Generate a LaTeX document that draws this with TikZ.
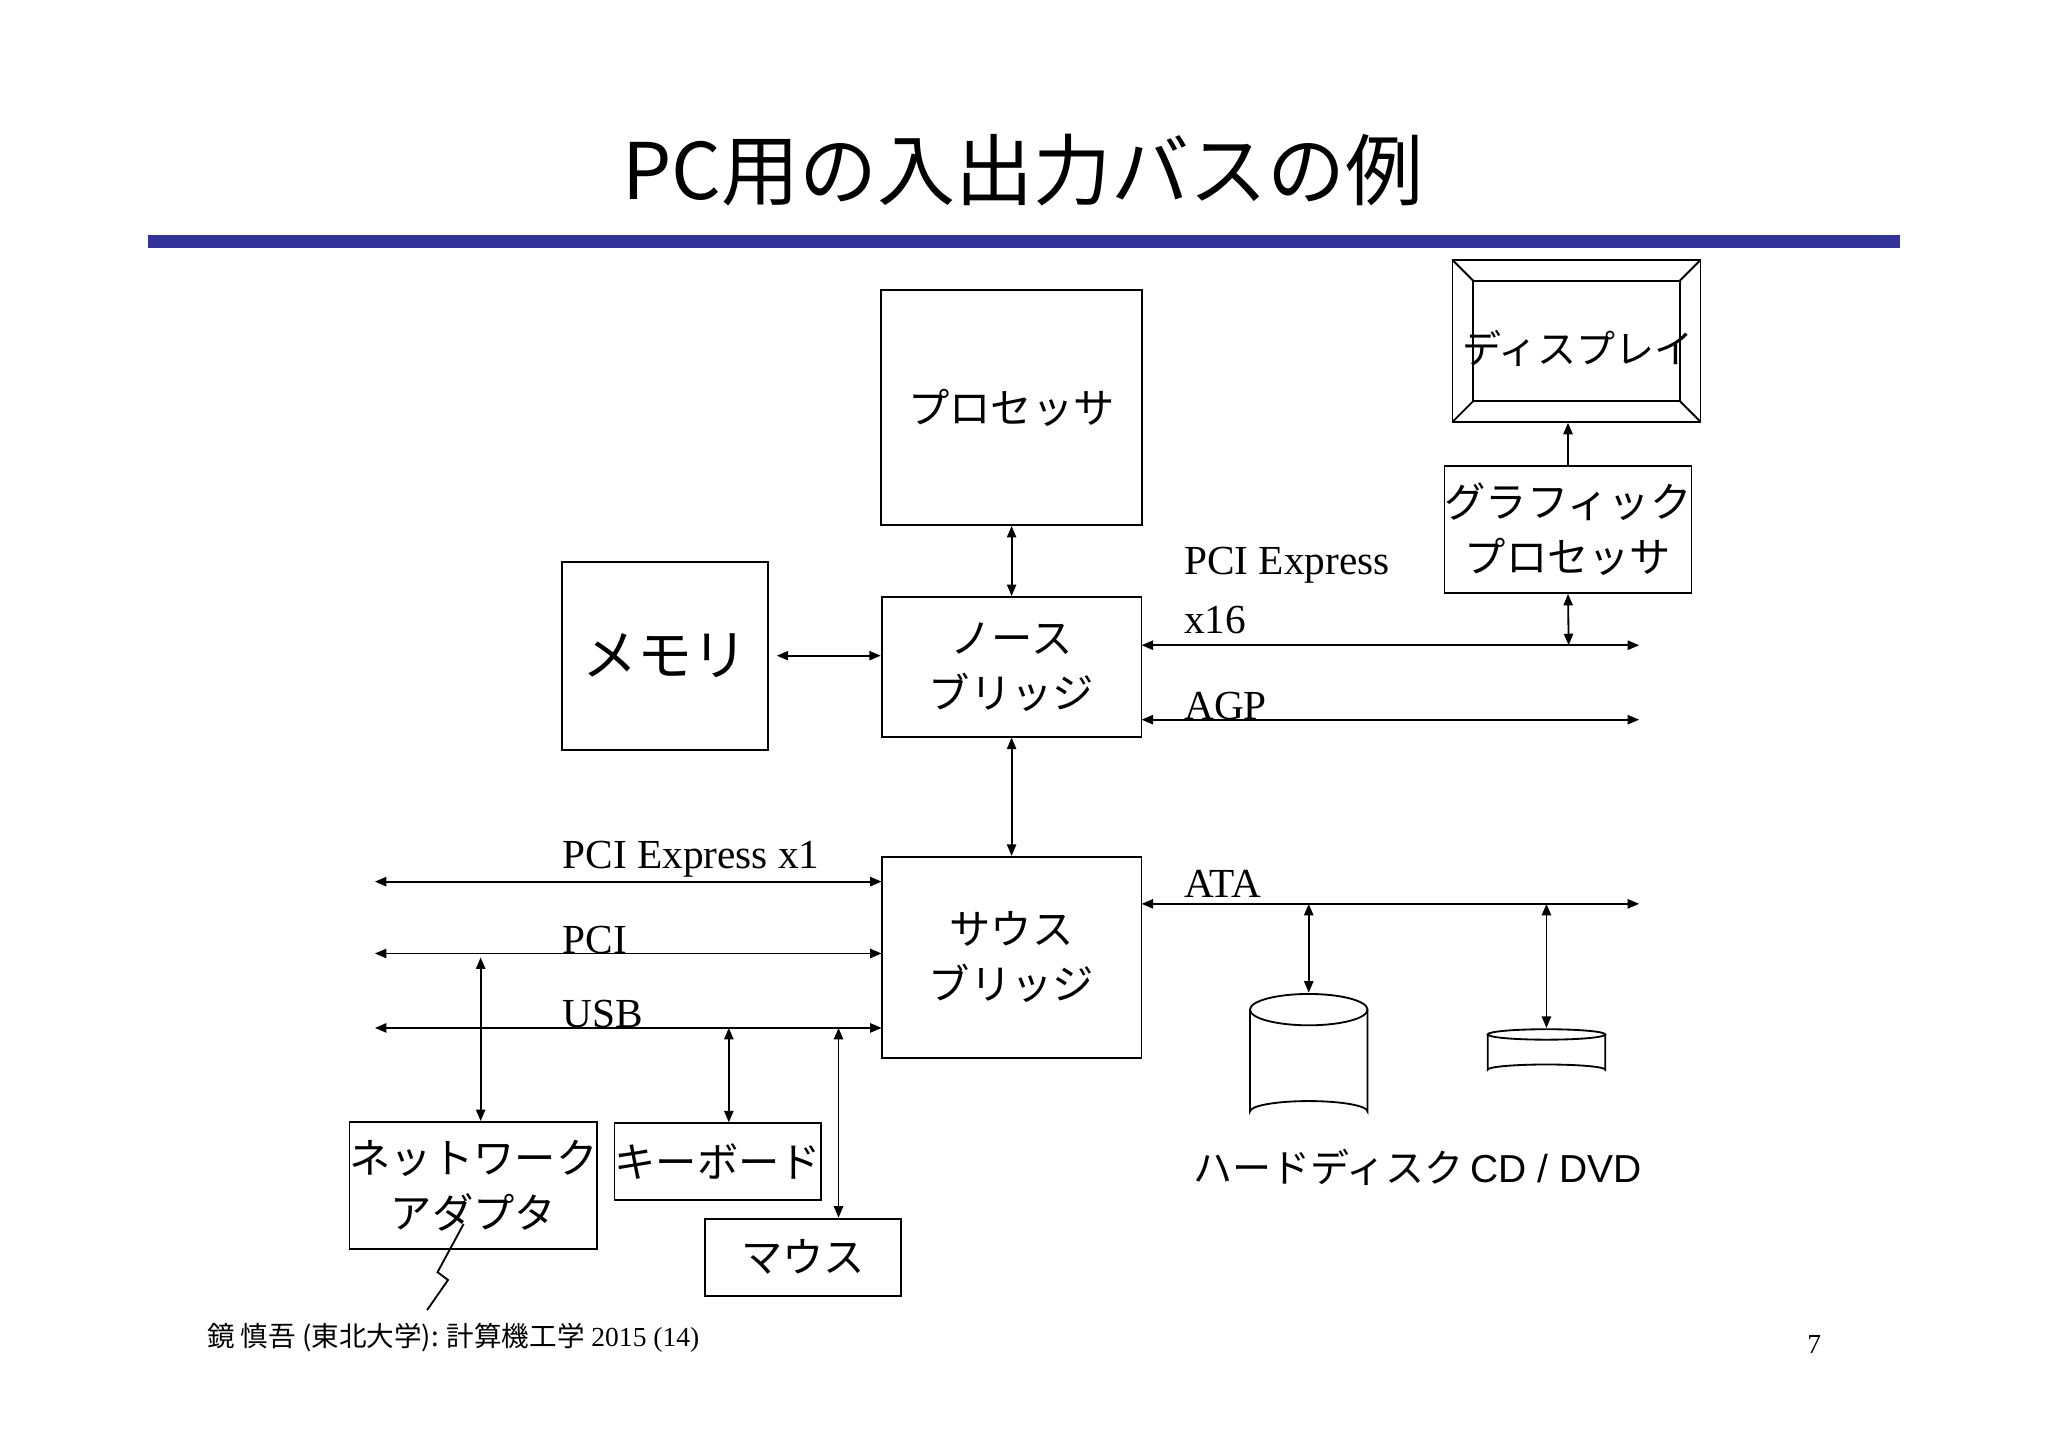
\documentclass[tikz,border=0pt]{standalone}
\usepackage{fontspec}
\setmainfont{Liberation Serif}
\newfontfamily\jp{Noto Sans CJK JP}
\newfontfamily\sans{Liberation Sans}
\usetikzlibrary{arrows.meta}
\definecolor{barblue}{RGB}{51,51,153}
\begin{document}
\begin{tikzpicture}[x=0.02cm,y=-0.02cm,line width=0.8pt,
  box/.style={draw,thick,align=center,inner sep=0pt,font=\jp\fontsize{18}{24}\selectfont},
  bus/.style={{Triangle[length=5pt,width=4pt]}-{Triangle[length=5pt,width=4pt]}},
  up/.style={-{Triangle[length=5pt,width=4pt]}},
  lab/.style={anchor=base west,inner sep=0pt,font=\fontsize{18}{20}\selectfont}]
\useasboundingbox (0,0) rectangle (1568,1108.6);
\node[font=\jp\fontsize{34}{40}\selectfont] (title) at (783,130) {PC用の入出力バスの例};
\fill[barblue] (113,180) rectangle (1455,190);
% boxes
\node[box,minimum width=4cm,minimum height=3.6cm] (proc) at (774.5,312) {プロセッサ};
\node[box,minimum width=3.16cm,minimum height=2.88cm,font=\jp\fontsize{24}{28}\selectfont] (mem) at (509,502) {メモリ};
\node[box,minimum width=3.98cm,minimum height=2.14cm] (nb) at (774.5,510.5) {ノース\\ブリッジ};
\node[box,minimum width=3.98cm,minimum height=3.08cm] (sb) at (774.5,733) {サウス\\ブリッジ};
\node[box,minimum width=3.62cm,minimum height=1.94cm] (gp) at (1200.5,405.5) {グラフィック\\プロセッサ};
\node[box,minimum width=3.62cm,minimum height=1.94cm] (net) at (362.5,907.5) {ネットワーク\\アダプタ};
\node[box,minimum width=3.02cm,minimum height=1.18cm] (kb) at (549.5,889.5) {キーボード};
\node[box,minimum width=3.0cm,minimum height=1.18cm] (mouse) at (615,962.5) {マウス};
% display
\node[draw,thick,minimum width=3.8cm,minimum height=2.48cm,inner sep=0pt] (disp) at (1207,261) {};
\draw[thick] (1128,215) rectangle (1286,307);
\draw (1112,199)--(1128,215) (1302,199)--(1286,215) (1112,323)--(1128,307) (1302,323)--(1286,307);
\node[font=\jp\fontsize{17}{20}\selectfont,inner sep=0pt] (dtext) at (1208,267) {ディスプレイ};
% coordinates for buses
\coordinate (x16r) at (1255,494);
\coordinate (agpr) at (1255,551);
\coordinate (atar) at (1255,692);
\coordinate (e1l) at (287,675);
\coordinate (pcil) at (287,730);
\coordinate (usbl) at (287,787);
\coordinate (gpb) at (1201,494);
\coordinate (neta) at (368,730);
\coordinate (kba) at (558,787);
\coordinate (moa) at (642,787);
\coordinate (hdda) at (1002,692);
\coordinate (cda) at (1184,692);
\draw[bus] (proc.south) -- (nb.north);
\path (mem.east) ++(6,0) coordinate (me);
\draw[bus] (me) -- (nb.west |- me);
\draw[bus] (nb.south) -- (sb.north);
\draw[bus] (874,494) -- (x16r);
\draw[bus] (874,551) -- (agpr);
\draw[bus] (874,692) -- (atar);
\draw[bus] (e1l) -- (675,675);
\draw[bus] (pcil) -- (675,730);
\draw[bus] (usbl) -- (675,787);
\draw[bus] (gp.south) -- (gpb);
\draw[up] (gp.north) -- (gp.north |- disp.south);
\draw[bus] (368,733) -- (net.north -| neta);
\draw[bus] (kba) -- (kb.north -| kba);
\draw[bus] (moa) -- (mouse.north -| moa);
\draw[bus] (hdda) -- (1002,760);
\draw[bus] (cda) -- (1184,787);
% HDD
\draw[thick] (957,773) -- (957,851) arc[start angle=180,end angle=360,x radius=45,y radius=8] -- (1047,773);
\draw[thick] (1002,773) ellipse [x radius=45,y radius=12];
% CD
\draw[thick] (1139,792) -- (1139,819) arc[start angle=180,end angle=360,x radius=45,y radius=4] -- (1229,792);
\draw[thick] (1184,792) ellipse [x radius=45,y radius=4];
% labels
\node[lab] (l1) at (906,440) {PCI Express};
\node[lab] (l2) at (906,485) {x16};
\node[lab] (l3) at (906,551) {AGP};
\node[lab] (l4) at (906,687) {ATA};
\node[lab] (l5) at (430,665) {PCI Express x1};
\node[lab] (l6) at (430,730) {PCI};
\node[lab] (l7) at (430,787) {USB};
\node[anchor=base west,inner sep=0pt,font=\jp\fontsize{17}{20}\selectfont] (hddl) at (913,905) {ハードディスク};
\node[anchor=base west,inner sep=0pt,font=\sans\fontsize{17}{20}\selectfont] (cdl) at (1125,905) {CD / DVD};
\draw (355,937) -- (335,974) -- (343,980) -- (327,1003);
\node[anchor=base west,inner sep=0pt,font=\fontsize{12}{14}\selectfont] (foot) at (158,1031) {{\jp 鏡 慎吾 (東北大学): 計算機工学} 2015 (14)};
\node[anchor=base west,inner sep=0pt,font=\fontsize{12}{14}\selectfont] (pg) at (1383,1036) {7};
\end{tikzpicture}
\end{document}
